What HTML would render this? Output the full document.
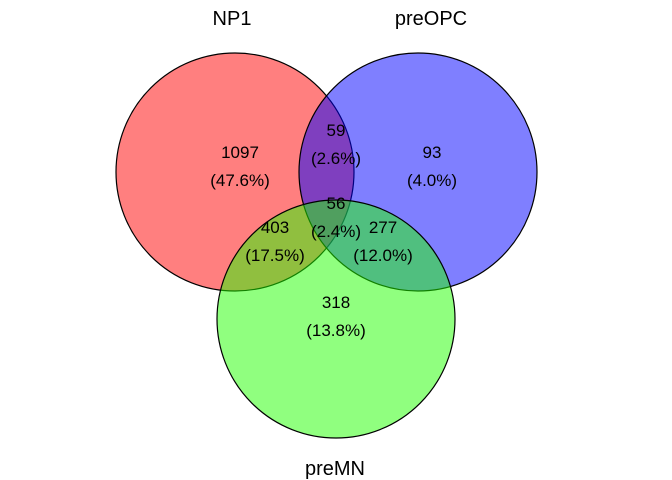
<!DOCTYPE html>
<html><head><meta charset="utf-8"><style>
html,body{margin:0;padding:0;background:#fff;}
svg{display:block;font-family:"Liberation Sans",Arial,sans-serif;}
</style></head><body>
<svg id="venn" width="672" height="480" viewBox="0 0 672 480"></svg>
<script>
const setNames = ["NP1", "preOPC", "preMN"];
const regionNames = ["NP1-only","NP1-preOPC","preOPC-only","all-three","NP1-preMN","preOPC-preMN","preMN-only"];
const regionCounts = [1097, 59, 93, 56, 403, 277, 318];
const regionPercents = ["47.6%","2.6%","4.0%","2.4%","17.5%","12.0%","13.8%"];

const svg = document.getElementById('venn');
const NS = "http://www.w3.org/2000/svg";
const circles = [
  {cx:235, cy:172, r:119, fill:"rgba(255,0,0,0.5)", lx:232, ly:25},
  {cx:418, cy:172, r:119, fill:"rgba(0,0,255,0.5)", lx:431, ly:25},
  {cx:336, cy:319, r:119, fill:"rgba(34,255,0,0.5)", lx:335, ly:475}
];
const labelPos = [[240,152],[336,130],[432,152],[336,203],[275,227],[383,227],[336,302]];

circles.forEach((c,i)=>{
  const e = document.createElementNS(NS,'circle');
  e.setAttribute('cx',c.cx); e.setAttribute('cy',c.cy); e.setAttribute('r',c.r);
  e.setAttribute('fill',c.fill); e.setAttribute('stroke','#000'); e.setAttribute('stroke-width','1.2');
  
  
  svg.appendChild(e);
});
circles.forEach((c,i)=>{
  const t = document.createElementNS(NS,'text');
  t.setAttribute('x',c.lx); t.setAttribute('y',c.ly); t.setAttribute('text-anchor','middle');
  t.setAttribute('font-size','20'); t.textContent = setNames[i];
  
  
  svg.appendChild(t);
});
regionCounts.forEach((v,i)=>{
  const [x,y] = labelPos[i];
  const t1 = document.createElementNS(NS,'text');
  t1.setAttribute('x',x); t1.setAttribute('y',y+6); t1.setAttribute('text-anchor','middle');
  t1.setAttribute('font-size','17'); t1.textContent = String(v);
  
  
  svg.appendChild(t1);
  const t2 = document.createElementNS(NS,'text');
  t2.setAttribute('x',x); t2.setAttribute('y',y+34); t2.setAttribute('text-anchor','middle');
  t2.setAttribute('font-size','17'); t2.textContent = '(' + regionPercents[i] + ')';
  
  
  svg.appendChild(t2);
});
</script>
</body></html>
